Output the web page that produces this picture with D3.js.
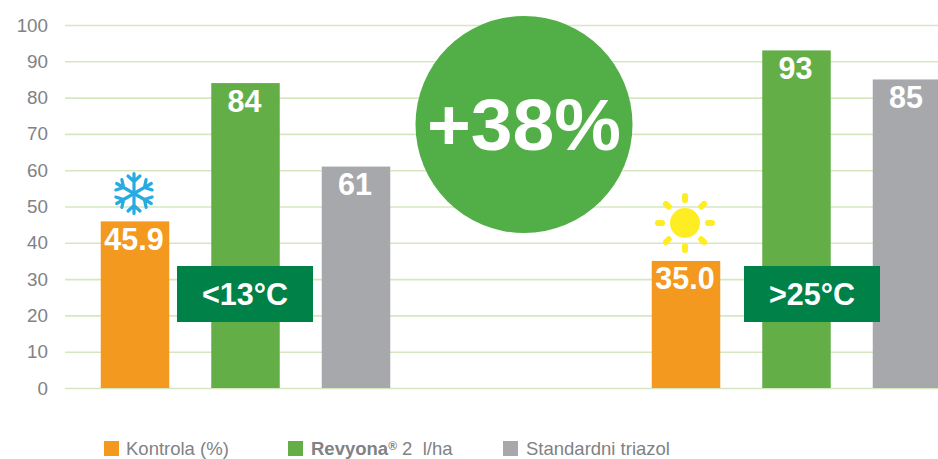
<!DOCTYPE html>
<html><head><meta charset="utf-8">
<script src="https://cdn.jsdelivr.net/npm/d3@7"></script>
<style>html,body{margin:0;padding:0;background:#fff;overflow:hidden}svg{display:block}text{font-family:"Liberation Sans",Arial,sans-serif}</style>
</head><body><svg id="c" width="938" height="459"></svg>
<script>
const groups = ["<13°C", ">25°C"];
const seriesNames = ["Kontrola (%)", "Revyona", "Standardni triazol"];
const kontrola = [45.9, 35.0];
const revyona = [84, 93];
const triazol = [61, 85];
const labelsKontrola = ["45.9", "35.0"];
const yTicks = [0,10,20,30,40,50,60,70,80,90,100];
const seriesColors = ["#f3991f", "#64ae48", "#a7a8ab"];
const calloutText = "+38%";

const svg = d3.select("#c");
const y = d3.scaleLinear().domain([0,100]).range([388,25]);
const x0 = d3.scaleBand().domain(groups).range([-30,1072]);
const x1 = d3.scalePoint().domain(seriesNames).range([-110.5,110.5]);
const barW = 68.5;

// grid
const axis = d3.axisLeft(y).tickValues(yTicks).tickSize(-873).tickPadding(17).tickFormat(d3.format("d"));
const ga = svg.append("g").attr("transform","translate(65,0)").call(axis);
ga.select(".domain").remove();
ga.selectAll("line").attr("stroke","#d6e7c0").attr("stroke-width",1.6);
ga.selectAll("text").attr("fill","#808285").attr("font-size",18.8);

// bars
const rows = [];
groups.forEach((g,i)=>{
  rows.push({g,s:seriesNames[0],v:kontrola[i],c:seriesColors[0],t:labelsKontrola[i]});
  rows.push({g,s:seriesNames[1],v:revyona[i],c:seriesColors[1],t:String(revyona[i])});
  rows.push({g,s:seriesNames[2],v:triazol[i],c:seriesColors[2],t:String(triazol[i])});
});
const cx = d => x0(d.g)+x0.bandwidth()/2+x1(d.s);
svg.append("g").selectAll("rect").data(rows).join("rect")
  .attr("x",d=>cx(d)-barW/2).attr("width",barW)
  .attr("y",d=>y(d.v)).attr("height",d=>y(0)-y(d.v)).attr("fill",d=>d.c);
svg.append("g").selectAll("text").data(rows).join("text")
  .attr("x",d=>cx(d)-1).attr("y",d=>y(d.v)+28.5).attr("text-anchor","middle")
  .attr("fill","#fff").attr("font-weight","700").attr("font-size",30.5).text(d=>d.t);

// temperature tags
svg.append("g").selectAll("g").data(groups).join("g").each(function(g,i){
  const t=d3.select(this);
  const c=x0(g)+x0.bandwidth()/2+(i===0?-0.5:15.5);
  t.append("rect").attr("x",c-68).attr("y",266).attr("width",136).attr("height",56).attr("fill","#008148");
  t.append("text").attr("x",c).attr("y",304.5).attr("text-anchor","middle").attr("fill","#fff")
   .attr("font-weight","700").attr("font-size",30.5).text(g);
});

// callout circle
svg.append("circle").attr("cx",524).attr("cy",124.5).attr("r",108.5).attr("fill","#52af47");
svg.append("text").attr("x",524).attr("y",150).attr("text-anchor","middle").attr("fill","#fff")
  .attr("font-weight","700").attr("font-size",72).attr("textLength",194).attr("lengthAdjust","spacingAndGlyphs").text(calloutText);

// snowflake
const sf = svg.append("g").attr("transform",`translate(134,193.5)`).attr("stroke","#29abe2").attr("stroke-width",3.2).attr("stroke-linecap","round").attr("fill","none");
d3.range(6).forEach(i=>{
  sf.append("path").attr("transform",`rotate(${i*60})`).attr("d","M0,0V-20M-6,-17.5L0,-12L6,-17.5");
});

// sun
const sun = svg.append("g").attr("transform","translate(685,223)");
sun.append("circle").attr("r",15).attr("fill","#ffed23");
d3.range(8).forEach(i=>{
  sun.append("rect").attr("transform",`rotate(${i*45})`).attr("x",-3).attr("y",-30).attr("width",6).attr("height",10).attr("rx",3).attr("fill","#ffed23");
});

// legend
const lg = svg.append("g");
const lx=[104,288,503], tx=[126,311,526];
seriesNames.forEach((s,i)=>{
  lg.append("rect").attr("x",lx[i]).attr("y",441).attr("width",15).attr("height",15).attr("fill",seriesColors[i]);
  const t=lg.append("text").attr("x",tx[i]).attr("y",455).attr("fill","#808285").attr("font-size",18.5);
  if(i===1){
    t.append("tspan").attr("font-weight","700").text(s);
    t.append("tspan").attr("font-weight","700").attr("font-size",12).attr("dy",-5).text("®");
    t.append("tspan").attr("dy",5).text(" 2\u00a0 l/ha");
  } else t.text(s);
});
</script></body></html>
